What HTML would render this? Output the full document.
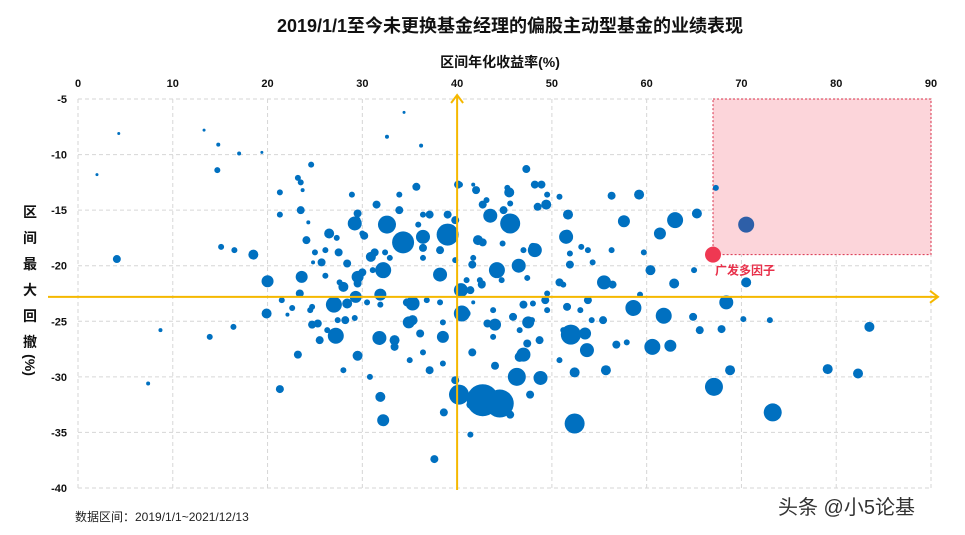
<!DOCTYPE html>
<html><head><meta charset="utf-8">
<style>
body{margin:0;background:#fff;width:965px;height:535px;overflow:hidden;font-family:"Liberation Sans","Noto Sans CJK SC",sans-serif;}
svg{display:block}
</style></head>
<body>
<svg id="chart" width="965" height="535" font-family="Liberation Sans, Noto Sans CJK SC, sans-serif">
<text x="510" y="32" text-anchor="middle" font-size="18" font-weight="bold" fill="#111">2019/1/1至今未更换基金经理的偏股主动型基金的业绩表现</text>
<text x="500" y="67" text-anchor="middle" font-size="14" font-weight="bold" fill="#111">区间年化收益率(%)</text>
<g font-size="14" font-weight="bold" fill="#111" text-anchor="middle">
<text x="30" y="217">区</text><text x="30" y="243">间</text><text x="30" y="269">最</text><text x="30" y="295">大</text><text x="30" y="321">回</text><text x="30" y="347">撤</text>
<text x="30" y="370" transform="rotate(90 30 365)">(%)</text>
</g>
<g id="grid"></g>
<g id="ticks" font-size="11" font-weight="bold" fill="#111"></g>
<rect id="zone" fill="#fcd5da" stroke="#d9304a" stroke-dasharray="2,2" stroke-width="1"></rect>
<g id="bubbles"></g>
<g id="cross"></g>
<text x="75" y="521" font-size="12" fill="#222">数据区间：2019/1/1~2021/12/13</text>
<text x="778" y="514" font-size="20" fill="#333">头条 @小5论基</text>
</svg>
<script>
const xTicks=[0,10,20,30,40,50,60,70,80,90];
const yTicks=[-5,-10,-15,-20,-25,-30,-35,-40];
const xs=[42.7,44.5,40.2,52.4,73.3,67.1,46.3,34.3,39.0,45.6,52.0,27.2,27.0,32.2,32.6,44.2,40.5,35.3,58.6,61.8,60.6,63.0,68.4,47.0,53.7,48.8,51.5,55.5,40.4,38.2,36.4,29.2,31.8,48.2,46.5,43.5,61.4,57.6,62.5,53.5,44.0,47.5,38.5,34.9,31.9,29.5,29.3,23.6,20.0,19.9,18.5,29.5,32.2,31.9,70.5,68.8,83.5,79.1,82.3,21.3,4.1,37.6,55.7,52.4,60.4,62.9,65.3,47.3,45.5,48.9,56.3,59.2,51.7,49.4,42.0,40.1,35.7,24.6,23.5,23.5,21.3,24.1,26.5,29.5,30.9,28.0,23.4,25.3,28.2,36.1,33.4,41.4,38.6,45.6,47.7,48.7,55.4,56.8,64.9,65.6,67.9,70.2,73.0,67.3,65.0,53.8,50.8,49.3,47.0,42.6,41.6,42.2,39.8,37.1,33.9,31.5,30.2,27.5,25.7,26.1,21.5,16.4,13.9,15.1,16.5,14.7,14.8,17.0,7.4,8.7,2.0,4.3,13.3,19.4,34.4,36.2,32.6,41.4,39.8,37.1,35.0,30.8,28.0,44.0,50.8,59.3,56.4,51.9,53.1,56.3,59.7,57.9,50.8,44.9,43.1,33.9,28.9,27.4,24.5,21.3,
23.2,29.4,35.9,36.4,39.0,40.3,41.7,45.3,48.2,49.5,48.5,42.7,45.6,30.0,31.3,32.4,36.4,38.2,42.7,44.8,47.0,48.0,51.6,53.8,51.9,54.3,24.8,28.4,30.0,31.1,32.9,36.4,39.8,41.7,44.7,42.7,41.0,42.4,41.4,29.5,27.6,28.4,24.7,22.6,30.5,34.7,36.8,38.2,43.8,45.9,43.2,41.0,48.0,49.5,51.6,53.0,54.2,51.2,47.9,46.6,43.8,47.4,46.6,41.6,38.5,36.4,33.4,23.2,25.5,24.7,26.3,29.2,35.3,38.5,22.1,31.9,41.7,49.5,51.2,47.4,27.3,26.1,25.0,23.7,24.3];
const ys=[-32.1,-32.4,-31.6,-34.2,-33.2,-30.9,-30.0,-17.9,-17.2,-16.2,-26.2,-26.3,-23.5,-20.4,-16.3,-20.4,-24.3,-23.4,-23.8,-24.5,-27.3,-15.9,-23.3,-28.0,-27.6,-30.1,-17.4,-21.5,-22.2,-20.8,-17.4,-16.2,-26.5,-18.6,-20.0,-15.5,-17.1,-16.0,-27.2,-26.1,-25.3,-25.1,-26.4,-25.1,-22.6,-21.0,-22.8,-21.0,-21.4,-24.3,-19.0,-28.1,-33.9,-31.8,-21.5,-29.4,-25.5,-29.3,-29.7,-31.1,-19.4,-37.4,-29.4,-29.6,-20.4,-21.6,-15.3,-11.3,-13.4,-12.7,-13.7,-13.6,-15.4,-14.5,-13.2,-12.7,-12.9,-10.9,-12.5,-15.0,-13.4,-17.7,-17.1,-15.3,-19.2,-21.9,-22.5,-25.2,-24.9,-26.1,-27.3,-32.5,-33.2,-33.4,-31.6,-26.7,-24.9,-27.1,-24.6,-25.8,-25.7,-24.8,-24.9,-13.0,-20.4,-23.1,-21.5,-23.1,-23.5,-21.7,-19.9,-17.7,-15.9,-15.4,-15.0,-14.5,-17.3,-18.8,-19.7,-20.9,-23.1,-25.5,-26.4,-18.3,-18.6,-11.4,-9.1,-9.9,-30.6,-25.8,-11.8,-8.1,-7.8,-9.8,-6.2,-9.2,-8.4,-35.2,-30.3,-29.4,-28.5,-30.0,-29.4,-29.0,-28.5,-22.6,-21.7,-19.9,-18.3,-18.6,-18.8,-26.9,-13.8,-15.0,-14.1,-13.6,-13.6,-24.9,-24.0,-15.4,
-12.1,-15.9,-16.3,-15.4,-15.4,-12.7,-12.7,-13.0,-12.7,-13.6,-14.7,-14.5,-14.4,-17.1,-18.8,-18.8,-18.4,-18.6,-17.9,-18.0,-18.6,-18.3,-17.2,-18.6,-18.9,-19.7,-19.7,-19.8,-20.6,-20.4,-19.3,-19.3,-19.5,-19.3,-21.3,-21.6,-21.3,-21.3,-22.2,-21.6,-21.5,-23.4,-23.7,-23.8,-23.3,-23.3,-23.1,-23.3,-24.0,-24.6,-25.2,-24.3,-23.4,-24.0,-23.7,-24.0,-24.9,-25.8,-24.9,-25.8,-26.4,-27.0,-28.2,-27.8,-28.8,-27.8,-26.7,-28.0,-26.7,-25.3,-25.8,-24.7,-24.9,-25.1,-24.4,-23.5,-23.3,-22.5,-21.7,-21.1,-17.5,-18.6,-18.8,-13.2,-16.1];
const sizes=[16,14,10,10,9,9,9,11,11,10,10,8,8,8,9,8,8,7,8,8,8,8,7,7,7,7,7,7,7,7,7,7,7,7,7,7,6,6,6,6,6,6,6,6,6,6,6,6,6,5,5,5,6,5,5,5,5,5,5,4,4,4,5,5,5,5,5,4,5,4,4,5,5,5,4,4,4,3,3,4,3,4,5,4,5,5,4,4,4,4,4,4,4,4,4,4,4,4,4,4,4,3,3,3,3,4,4,4,4,4,4,5,4,4,4,4,4,4,4,3,3,3,3,3,3,3,2,2,2,2,1.5,1.5,1.5,1.5,1.5,2,2,3,4,4,3,3,3,4,3,3,4,4,3,3,3,3,3,4,3,3,3,3,3,3,
3,4,3,3,4,3,2,3,4,3,4,4,3,3,4,3,4,4,4,3,3,4,5,3,3,3,2,4,4,3,3,3,3,3,3,3,3,3,4,4,3,5,3,3,3,4,3,3,3,4,4,4,3,3,4,3,3,3,3,3,3,4,5,4,3,3,5,4,4,4,3,3,5,3,2,3,2,3,3,3,3,3,3,2,2];
const highlightX=[70.5,67.0];
const highlightY=[-16.3,-19.0];
const highlightR=[8,8];
const crossX=40, crossY=-22.8;
const zone=[67,90,-5,-19];

const L=78,R=931,T=99,B=488;
const sx=v=>L+(v-0)/(90-0)*(R-L);
const sy=v=>T+(-5-v)/(35)*(B-T);
const NS="http://www.w3.org/2000/svg";
function mk(tag,attrs,parent){const e=document.createElementNS(NS,tag);for(const k in attrs)e.setAttribute(k,attrs[k]);parent.appendChild(e);return e;}
const grid=document.getElementById('grid'),ticks=document.getElementById('ticks');
xTicks.forEach(t=>{
  const l=mk('line',{x1:sx(t),x2:sx(t),y1:T,y2:B,stroke:'#d6d6d6','stroke-dasharray':'4,3'},grid);
  
  
  const tx=mk('text',{x:sx(t),y:87,'text-anchor':'middle'},ticks);tx.textContent=t;
  
  
});
yTicks.forEach(t=>{
  const l=mk('line',{x1:L,x2:R,y1:sy(t),y2:sy(t),stroke:'#d6d6d6','stroke-dasharray':'4,3'},grid);
  
  
  const tx=mk('text',{x:67,y:sy(t)+4,'text-anchor':'end'},ticks);tx.textContent=t;
  
  
});
const z=document.getElementById('zone');
z.setAttribute('x',sx(zone[0]));z.setAttribute('width',sx(zone[1])-sx(zone[0]));
z.setAttribute('y',sy(zone[2]));z.setAttribute('height',sy(zone[3])-sy(zone[2]));
const bg=document.getElementById('bubbles');
xs.forEach((x,i)=>{
  const c=mk('circle',{cx:sx(x),cy:sy(ys[i]),r:sizes[i],fill:'#0070c0'},bg);
  
  
});
const hc=['#2e5fa8','#ef3852'];
highlightX.forEach((x,i)=>{
  const c=mk('circle',{cx:sx(x),cy:sy(highlightY[i]),r:highlightR[i],fill:hc[i]},bg);
  
  
});
const lb=mk('text',{x:sx(highlightX[1])+2,y:sy(highlightY[1])+20,'font-size':12,'font-weight':'bold',fill:'#e8304a'},bg);
lb.textContent='广发多因子';


const cr=document.getElementById('cross');
const vx=sx(crossX), hy=sy(crossY);
const v=mk('line',{x1:vx,x2:vx,y1:B+2,y2:T-4,stroke:'#f5b800','stroke-width':2},cr);


mk('polyline',{points:`${vx-6},${T+4} ${vx},${T-4} ${vx+6},${T+4}`,fill:'none',stroke:'#f5b800','stroke-width':2},cr);
const h=mk('line',{x1:48,x2:R+7,y1:hy,y2:hy,stroke:'#f5b800','stroke-width':2},cr);


mk('polyline',{points:`${R-1},${hy-6} ${R+7},${hy} ${R-1},${hy+6}`,fill:'none',stroke:'#f5b800','stroke-width':2},cr);
</script>
</body></html>
